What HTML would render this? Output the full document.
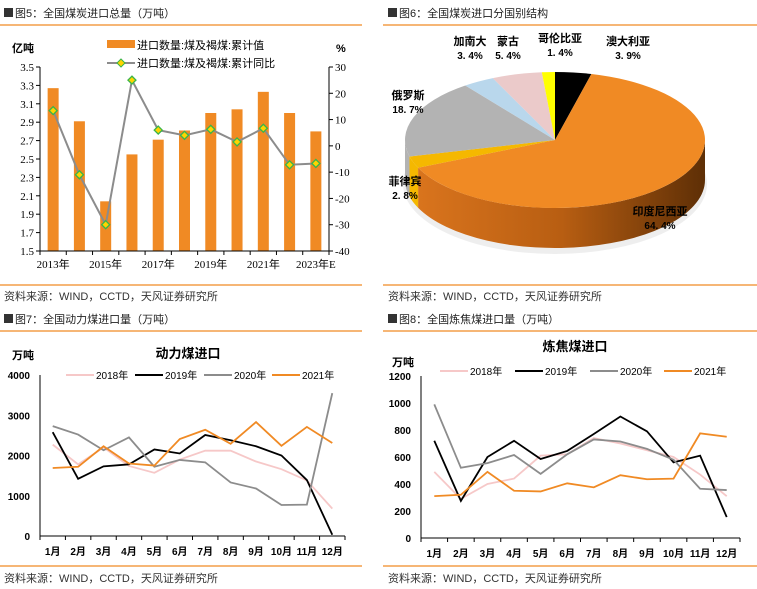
<!DOCTYPE html>
<html><head><meta charset="utf-8">
<style>
body{margin:0;background:#fff;}
svg{display:block;font-family:"Liberation Sans","Noto Sans CJK SC",sans-serif;}
</style></head>
<body>
<svg id="s" width="757" height="589" viewBox="0 0 757 589" xmlns="http://www.w3.org/2000/svg">
<defs>
<linearGradient id="sideG" x1="0" x2="1" y1="0" y2="0">
<stop offset="0" stop-color="#d9741d"/><stop offset="0.5" stop-color="#b85e12"/><stop offset="1" stop-color="#5e2f06"/>
</linearGradient>
</defs>
</svg>
<script>
const NS='http://www.w3.org/2000/svg';
const svg=document.getElementById('s');
function mk(tag,attrs,parent,text){const e=document.createElementNS(NS,tag);for(const k in attrs)e.setAttribute(k,attrs[k]);if(text!==undefined)e.textContent=text;(parent||svg).appendChild(e);return e;}

// ===== Chart 5 data =====
const c5Years=['2013年','2014年','2015年','2016年','2017年','2018年','2019年','2020年','2021年','2022年','2023年E'];
const c5Volume=[3.27,2.91,2.04,2.55,2.71,2.81,3.00,3.04,3.23,3.00,2.80];
const c5Yoy=[13.4,-11,-30,25,6,4,6.3,1.5,6.7,-7.2,-6.7];
const c5LeftTicks=[1.5,1.7,1.9,2.1,2.3,2.5,2.7,2.9,3.1,3.3,3.5];
const c5RightTicks=[-40,-30,-20,-10,0,10,20,30];
// ===== Chart 6 data =====
const c6Names=['澳大利亚','印度尼西亚','菲律宾','俄罗斯','加南大','蒙古','哥伦比亚'];
const c6Shares=[3.9,64.4,2.8,18.7,3.4,5.4,1.4];
const c6Colors=['#000000','#f08a24','#f5b800','#b3b3b3','#b9d7ec','#ebcaca','#ffff00'];
// ===== Chart 7 data =====
const months=['1月','2月','3月','4月','5月','6月','7月','8月','9月','10月','11月','12月'];
const seriesNames=['2018年','2019年','2020年','2021年'];
const seriesColors=['#f6c8c8','#000000','#8c8c8c','#f08a24'];
const c7_2018=[2270,1780,2200,1740,1570,1900,2120,2120,1850,1660,1380,680];
const c7_2019=[2580,1420,1730,1780,2150,2050,2510,2380,2230,2000,1390,30];
const c7_2020=[2730,2520,2130,2450,1720,1890,1830,1330,1180,770,780,3550];
const c7_2021=[1690,1720,2230,1800,1750,2410,2640,2290,2830,2240,2710,2310];
const c7Ticks=[0,1000,2000,3000,4000];
// ===== Chart 8 data =====
const c8_2018=[490,290,400,440,610,620,740,700,650,600,470,310];
const c8_2019=[720,275,600,720,585,645,770,900,790,560,610,155];
const c8_2020=[990,520,555,615,475,620,730,715,660,580,365,355];
const c8_2021=[310,320,490,350,345,405,375,465,435,440,775,750];
const c8Ticks=[0,200,400,600,800,1000,1200];

const OR='#f08a24';
function header(x,y,num,title,lx1,lx2,ly){
  const g=mk('g',{});
  mk('rect',{x:x,y:y-9,width:9,height:9,fill:'#333'},g);
  mk('text',{x:x+11,y:y,'font-size':11,fill:'#222'},g,num+'：'+title);
  mk('line',{x1:lx1,x2:lx2,y1:ly,y2:ly,stroke:OR,'stroke-width':1.3},g);
}
function source(x,y,lx1,lx2,ly){
  const g=mk('g',{});
  mk('line',{x1:lx1,x2:lx2,y1:ly,y2:ly,stroke:OR,'stroke-width':1.3},g);
  mk('text',{x:x,y:y,'font-size':11,fill:'#333'},g,'资料来源：WIND，CCTD，天风证券研究所');
}

// ================= Chart 5 =================
header(4,17,'图5','全国煤炭进口总量（万吨）',0,362,25);
(function(){
  const L=40,R=329,T=67,B=251;
  const g=mk('g',{});
  const yL=v=>B-(v-1.5)/(3.5-1.5)*(B-T);
  const yR=v=>B-(v+40)/70*(B-T);
  const n=c5Years.length, cw=(R-L)/n;
  const xc=i=>L+cw*(i+0.5);
  c5Volume.forEach((v,i)=>{
    const r=mk('rect',{x:xc(i)-5.5,y:yL(v),width:11,height:B-yL(v),fill:OR},g);
    
    
  });
  mk('line',{x1:L,x2:L,y1:T,y2:B,stroke:'#000'},g);
  mk('line',{x1:R,x2:R,y1:T,y2:B,stroke:'#000'},g);
  mk('line',{x1:L,x2:R,y1:B,y2:B,stroke:'#000'},g);
  c5LeftTicks.forEach(t=>{mk('line',{x1:L-4,x2:L,y1:yL(t),y2:yL(t),stroke:'#000'},g);
    mk('text',{x:L-6,y:yL(t)+4,'font-size':11,'text-anchor':'end','font-family':'Liberation Serif, serif'},g,t.toFixed(1));});
  c5RightTicks.forEach(t=>{mk('line',{x1:R,x2:R+4,y1:yR(t),y2:yR(t),stroke:'#000'},g);
    mk('text',{x:R+6,y:yR(t)+4,'font-size':11,'font-family':'Liberation Serif, serif'},g,String(t));});
  for(let i=0;i<=n;i++)mk('line',{x1:L+cw*i,x2:L+cw*i,y1:B,y2:B+4,stroke:'#000'},g);
  c5Years.forEach((y,i)=>{if(i%2===0)mk('text',{x:xc(i),y:B+17,'font-size':11,'text-anchor':'middle','font-family':'Liberation Serif,"Noto Sans CJK SC",serif'},g,y);});
  const pts=c5Yoy.map((v,i)=>xc(i)+','+yR(v)).join(' ');
  mk('polyline',{points:pts,fill:'none',stroke:'#8c8c8c','stroke-width':2},g);
  c5Yoy.forEach((v,i)=>{const p=mk('path',{d:`M${xc(i)} ${yR(v)-4}l4 4l-4 4l-4 -4z`,fill:'#ffd400',stroke:'#39b54a','stroke-width':1.3},g);
    });
  mk('text',{x:12,y:52,'font-size':11,'font-weight':'bold'},g,'亿吨');
  mk('text',{x:336,y:52,'font-size':11,'font-weight':'bold'},g,'%');
  const lg=mk('g',{},g);
  mk('rect',{x:107,y:40,width:28,height:8,fill:OR},lg);
  mk('text',{x:137,y:49,'font-size':11},lg,'进口数量:煤及褐煤:累计值');
  mk('line',{x1:107,x2:135,y1:63,y2:63,stroke:'#8c8c8c','stroke-width':2},lg);
  mk('path',{d:'M121 59l4 4l-4 4l-4 -4z',fill:'#ffd400',stroke:'#39b54a'},lg);
  mk('text',{x:137,y:67,'font-size':11},lg,'进口数量:煤及褐煤:累计同比');
})();
source(4,300,0,362,285);

// ================= Chart 6 =================
header(388,17,'图6','全国煤炭进口分国别结构',383,757,25);
(function(){
  const g=mk('g',{});
  const cx=555,cy=140,rx=150,ry=68,dep=40;
  const P=(a,dy)=>[cx+rx*Math.sin(a),cy-ry*Math.cos(a)+(dy||0)];
  const total=c6Shares.reduce((a,b)=>a+b,0);
  mk('ellipse',{cx:cx,cy:cy+dep+4,rx:rx+2,ry:ry+2,fill:'#ddd',opacity:0.5},g);
  let a=0;const angs=[];
  c6Shares.forEach(v=>{const a2=a+v/total*2*Math.PI;angs.push([a,a2]);a=a2;});
  // sides
  angs.forEach(([a1,a2],i)=>{
    const s=Math.max(a1,Math.PI/2),e=Math.min(a2,Math.PI*1.5);
    if(e<=s)return;
    const p1=P(s),p2=P(e),q2=P(e,dep),q1=P(s,dep);
    const col=i===1?'url(#sideG)':c6Colors[i];
    const side=mk('path',{d:`M${p1}A${rx} ${ry} 0 0 1 ${p2}L${q2}A${rx} ${ry} 0 0 0 ${q1}Z`,fill:col},g);
    
    
  });
  angs.forEach(([a1,a2],i)=>{
    const p1=P(a1),p2=P(a2);const large=(a2-a1)>Math.PI?1:0;
    const sl=mk('path',{d:`M${cx} ${cy}L${p1}A${rx} ${ry} 0 ${large} 1 ${p2}Z`,fill:c6Colors[i]},g);
    
    
  });
  const labelPos=[[628,45],[660,215],[405,185],[408,99],[470,45],[508,45],[560,42]];
  c6Names.forEach((nm,i)=>{
    const [x,y]=labelPos[i];
    const t=mk('text',{x:x,y:y,'font-size':11,'font-weight':'bold','text-anchor':'middle'},g,nm);
    
    mk('text',{x:x,y:y+14,'font-size':10,'font-weight':'bold','text-anchor':'middle'},g,c6Shares[i].toFixed(1).replace('.','. ')+'%');
  });
})();
source(388,300,383,757,285);

// ================= Line charts =================
function lineChart(o){
  const g=mk('g',{});
  const {L,R,T,B,max}=o;
  const y=v=>B-v/max*(B-T);
  const cw=(R-L)/12, xc=i=>L+cw*(i+0.5);
  mk('line',{x1:L,x2:L,y1:T,y2:B,stroke:'#000'},g);
  mk('line',{x1:L,x2:R,y1:B,y2:B,stroke:'#000'},g);
  o.ticks.forEach(t=>mk('text',{x:L-10,y:y(t)+4,'font-size':10,'font-weight':'bold','text-anchor':'end'},g,String(t)));
  for(let i=0;i<=12;i++)mk('line',{x1:L+cw*i,x2:L+cw*i,y1:B,y2:B+4,stroke:'#000'},g);
  months.forEach((m,i)=>mk('text',{x:xc(i),y:B+19,'font-size':10,'font-weight':'bold','text-anchor':'middle'},g,m));
  o.data.forEach((d,k)=>{
    const pl=mk('polyline',{points:d.map((v,i)=>xc(i)+','+y(v)).join(' '),fill:'none',stroke:seriesColors[k],'stroke-width':1.8},g);
    
    
  });
  mk('text',{x:o.titleX,y:o.titleY,'font-size':13,'font-weight':'bold','text-anchor':'middle'},g,o.title);
  mk('text',{x:o.unitX,y:o.unitY,'font-size':11,'font-weight':'bold'},g,'万吨');
  const lg=mk('g',{},g);
  o.legendX.forEach((lx,k)=>{
    mk('line',{x1:lx,x2:lx+28,y1:o.legendY,y2:o.legendY,stroke:seriesColors[k],'stroke-width':2},lg);
    mk('text',{x:lx+30,y:o.legendY+4,'font-size':10},lg,seriesNames[k]);
  });
}
header(4,323,'图7','全国动力煤进口量（万吨）',0,362,331);
lineChart({name:'chart-thermal-coal-imports',L:40,R:345,T:375,B:536,max:4000,ticks:c7Ticks,
  data:[c7_2018,c7_2019,c7_2020,c7_2021],title:'动力煤进口',titleX:188,titleY:358,unitX:12,unitY:359,
  legendX:[66,135,204,272],legendY:375});
source(4,582,0,362,566);
header(388,323,'图8','全国炼焦煤进口量（万吨）',383,757,331);
lineChart({name:'chart-coking-coal-imports',L:421,R:740,T:376,B:538,max:1200,ticks:c8Ticks,
  data:[c8_2018,c8_2019,c8_2020,c8_2021],title:'炼焦煤进口',titleX:575,titleY:351,unitX:392,unitY:366,
  legendX:[440,515,590,664],legendY:371});
source(388,582,383,757,566);
</script>
</body></html>
